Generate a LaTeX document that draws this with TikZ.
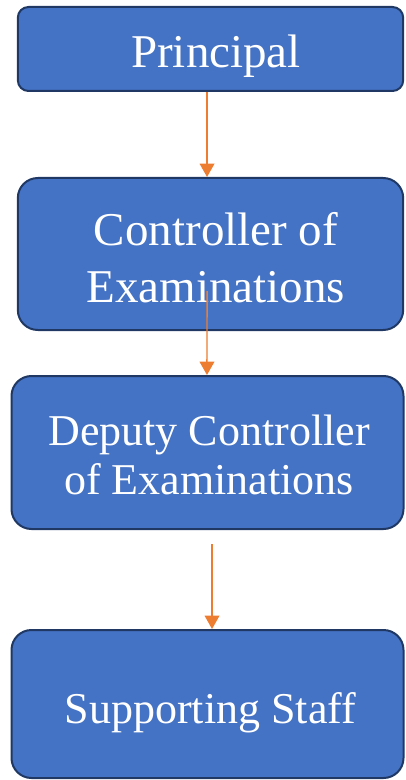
\documentclass[tikz,border=0pt]{standalone}
\usepackage{fontspec}
\setmainfont{Liberation Serif}
\usetikzlibrary{arrows.meta}

\definecolor{boxblue}{RGB}{68,114,196}
\definecolor{boxedge}{RGB}{32,56,100}
\definecolor{linkorange}{RGB}{237,125,49}

\tikzset{every picture/.style={line width=0.75pt}}

\begin{document}
\begin{tikzpicture}[x=0.75pt,y=0.75pt,yscale=-1,xscale=1,
  box/.style={draw=boxedge, fill=boxblue, line width=1.5pt, rounded corners=15pt, inner sep=0pt},
  boxtext/.style={text=white, align=center, inner sep=0.75pt, anchor=base},
  bigtext/.style={font=\fontsize{35.25}{42.75}\selectfont},
  smalltext/.style={font=\fontsize{33}{36.75}\selectfont},
  link/.style={draw=linkorange, line width=1.1pt, -{Triangle[width=11pt,length=10pt]}}]
\useasboundingbox (0,0) rectangle (405,780);

%Rounded Rect: Principal
\node [box, rounded corners=8pt, minimum width=289pt, minimum height=63pt] (principal) at (210.5,49) {};
%Rounded Rect: Controller
\node [box, minimum width=289pt, minimum height=114pt] (controller) at (210.5,254) {};
%Rounded Rect: Deputy
\node [box, minimum width=294pt, minimum height=114.75pt] (deputy) at (207.5,452.5) {};
%Rounded Rect: Staff
\node [box, minimum width=294pt, minimum height=111pt] (staff) at (207.5,704) {};

% Text Node
\node [boxtext, bigtext] (principaltext) at (216,68) {Principal};
% Text Node
\node [boxtext, bigtext] (controllertext) at (216,302) {Controller of\\Examinations};
% Text Node
\node [boxtext, smalltext] (deputytext) at (209,494) {Deputy Controller\\of Examinations};
% Text Node
\node [boxtext, smalltext] (stafftext) at (210.5,723) {Supporting Staff};

%Straight Lines
\draw [link] ([xshift=-2.6pt]principal.south) -- ([xshift=-2.6pt]controller.north);
%Straight Lines
\draw [link] ([xshift=-2.6pt,yshift=-30pt]controller.south) -- ([xshift=-0.4pt]deputy.north);
%Straight Lines
\draw [link] ([xshift=3.4pt,yshift=10.5pt]deputy.south) -- ([xshift=3.4pt]staff.north);

\end{tikzpicture}
\end{document}
